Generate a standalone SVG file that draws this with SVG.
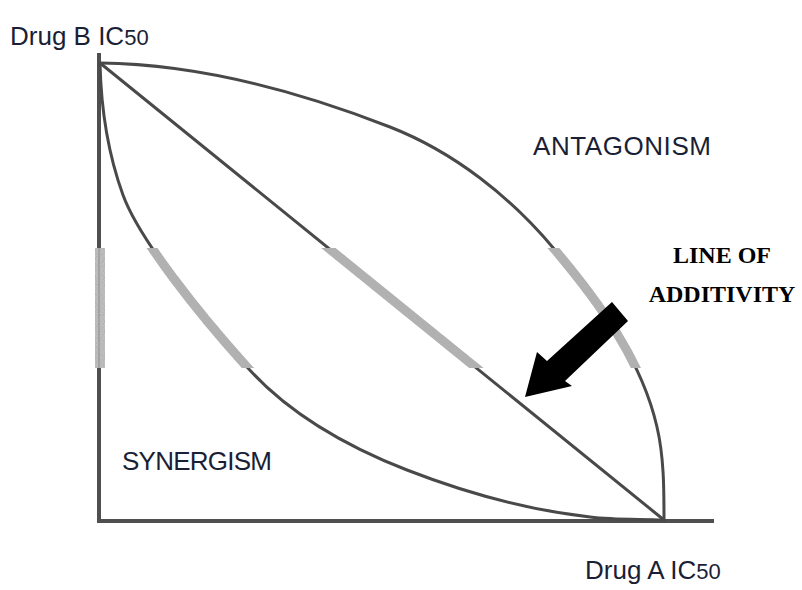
<svg xmlns="http://www.w3.org/2000/svg" width="802" height="590" viewBox="0 0 802 590">
<defs>
<style>
.curve{fill:none;stroke:#4a4a4a;stroke-width:3;stroke-linecap:round;stroke-linejoin:round}
.axis{fill:none;stroke:#505050;stroke-width:4}
.band{fill:none;stroke:#b4b4b4;stroke-width:9;stroke-linecap:round}
.lbl{font-family:"Liberation Sans","Open Sans",Arial,sans-serif;font-size:26px;fill:#1a1f36}
.sub{font-size:22px}
.bold{font-family:"Liberation Serif","Times New Roman",serif;font-weight:bold;font-size:24px;fill:#000;text-anchor:middle}
</style>
<filter id="soft" x="-5%" y="-5%" width="110%" height="110%"><feGaussianBlur stdDeviation="0.5"/></filter>
<filter id="speckle" x="0" y="0" width="100%" height="100%">
<feTurbulence type="fractalNoise" baseFrequency="0.9" numOctaves="1" seed="3" result="n"/>
<feColorMatrix in="n" type="matrix" values="0 0 0 0 0.42  0 0 0 0 0.42  0 0 0 0 0.42  0 0 0 1.8 -0.5" result="dots"/>
<feComposite in="dots" in2="SourceGraphic" operator="in" result="d2"/>
<feMerge><feMergeNode in="SourceGraphic"/><feMergeNode in="d2"/></feMerge>
</filter>
<clipPath id="bandclip"><rect x="90" y="248" width="600" height="120"/></clipPath>
<path id="syn" d="M100,63 C101,107 107,151 123,195 C139,239 200,315 247,367 C289,414 348,447 407,470 C466,493 528,510 590,517 C614,520 639,519 663,520"/>
<path id="ant" d="M100,63 C199,64 298,91 390,127 C454,152 511,197 555,250 C599,302 642,361 657,427 C664,457 664,489 664,520"/>
<path id="add" d="M100,63 L664,520"/>
</defs>
<rect width="802" height="590" fill="#fff"/>
<g id="axes" filter="url(#soft)">
<line class="axis" x1="99" y1="53" x2="99" y2="523"/>
<line class="axis" x1="97" y1="521" x2="714" y2="521"/>
</g>
<g id="connectors" filter="url(#soft)">
<use href="#syn" class="curve"/>
<use href="#ant" class="curve"/>
<use href="#add" class="curve"/>
</g>
<g id="bands" clip-path="url(#bandclip)">
<g filter="url(#speckle)">
<rect x="95" y="248" width="10" height="120" fill="#c2c2c2"/>
<line x1="99" y1="248" x2="99" y2="368" stroke="#909090" stroke-width="1.5"/>
<use href="#syn" class="band"/>
<use href="#ant" class="band"/>
<use href="#add" class="band"/>
</g>
</g>
<g id="arrow">
<polygon points="525,397 537,352 547,361 612,302 628,321 565,381 572,386" fill="#000"/>
</g>
<g id="labels">
<text class="lbl" x="10" y="45">Drug B IC<tspan class="sub">50</tspan></text>
<text class="lbl" x="585" y="579">Drug A IC<tspan class="sub">50</tspan></text>
<text class="lbl" x="533" y="155" textLength="178">ANTAGONISM</text>
<text class="lbl" x="122" y="470" textLength="150">SYNERGISM</text>
<text class="bold" x="722" y="263">LINE OF</text>
<text class="bold" x="722" y="302">ADDITIVITY</text>
</g>
</svg>
